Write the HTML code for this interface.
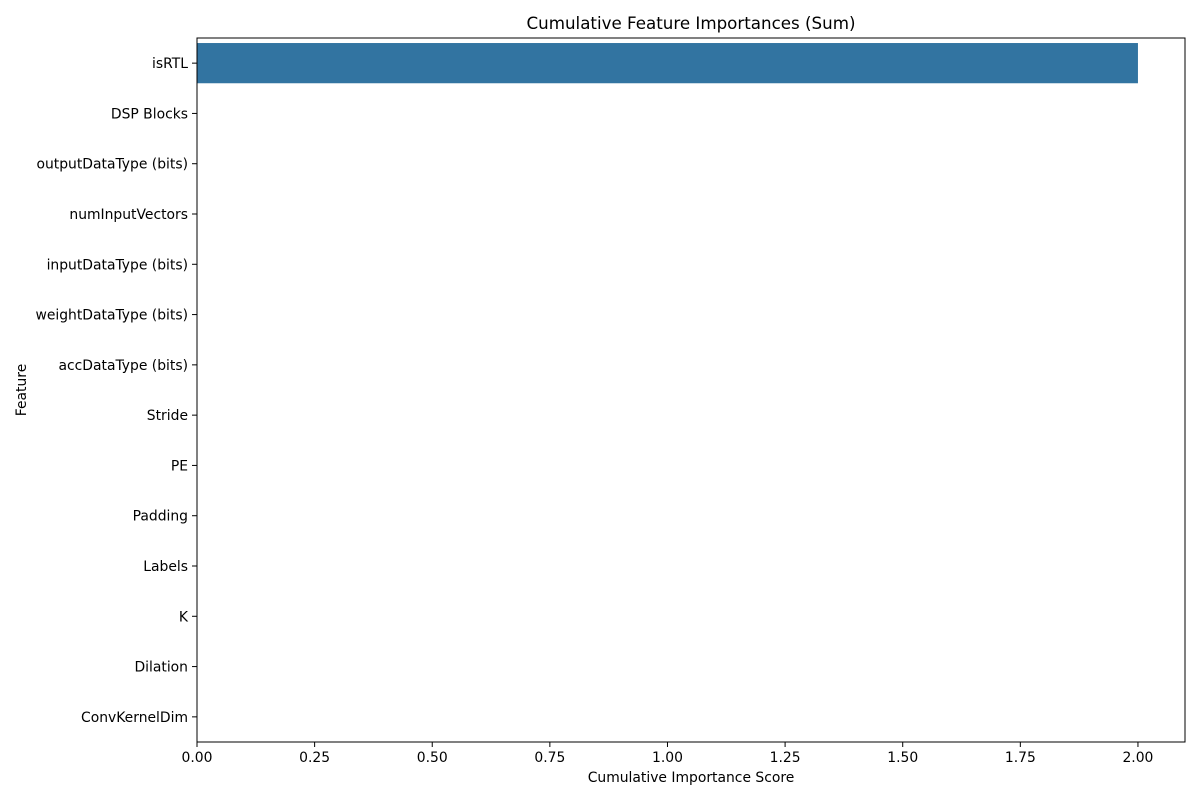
<!DOCTYPE html>
<html><head><meta charset="utf-8"><style>
body{margin:0;background:#fff;}
svg text{font-family:"DejaVu Sans","Liberation Sans",sans-serif;fill:#000;}
</style></head><body>
<svg id="chart" width="1200" height="800" xmlns="http://www.w3.org/2000/svg">
<rect width="1200" height="800" fill="#fff"/>
<text x="691" y="29" font-size="16.7" text-anchor="middle">Cumulative Feature Importances (Sum)</text>
<text x="691" y="782" font-size="13.9" text-anchor="middle">Cumulative Importance Score</text>
<text x="26" y="390" font-size="13.9" text-anchor="middle" transform="rotate(-90 26 390)">Feature</text>
<g id="marks"></g>
<g id="axes"></g>
</svg>
<script>
const categories=["isRTL","DSP Blocks","outputDataType (bits)","numInputVectors","inputDataType (bits)","weightDataType (bits)","accDataType (bits)","Stride","PE","Padding","Labels","K","Dilation","ConvKernelDim"];
const values=[2.0,0,0,0,0,0,0,0,0,0,0,0,0,0];
const xTicks=[0,0.25,0.5,0.75,1.0,1.25,1.5,1.75,2.0];
const xTickLabels=["0.00","0.25","0.50","0.75","1.00","1.25","1.50","1.75","2.00"];
const L=197,R=1185,T=38,B=742,XMAX=2.1;
const ns="http://www.w3.org/2000/svg";
const xs=v=>L+(v/XMAX)*(R-L);
const band=(B-T)/categories.length;
const yc=i=>T+band*(i+0.5);
const marks=document.getElementById('marks'),axes=document.getElementById('axes');
function mk(tag,attrs,parent){const e=document.createElementNS(ns,tag);for(const k in attrs)e.setAttribute(k,attrs[k]);parent.appendChild(e);return e;}
categories.forEach((c,i)=>{
  const w=xs(values[i])-xs(0);
  const r=mk('rect',{x:xs(0),y:yc(i)-band*0.4,width:Math.max(0,w),height:band*0.8,fill:'#3274a1'},marks);
  
  
  const t=mk('line',{x1:L-5,x2:L,y1:yc(i),y2:yc(i),stroke:'#000','stroke-width':1},axes);
  
  
  const tx=mk('text',{x:L-9,y:yc(i)+5,'font-size':13.9,'text-anchor':'end'},axes);
  tx.textContent=c;
  
  
});
xTicks.forEach((v,i)=>{
  const t=mk('line',{x1:xs(v),x2:xs(v),y1:B,y2:B+5,stroke:'#000','stroke-width':1},axes);
  
  
  const tx=mk('text',{x:xs(v),y:B+20,'font-size':13.9,'text-anchor':'middle'},axes);
  tx.textContent=xTickLabels[i];
  
  
});
const f=mk('rect',{x:L,y:T,width:R-L,height:B-T,fill:'none',stroke:'#000','stroke-width':1},axes);


</script>
</body></html>
